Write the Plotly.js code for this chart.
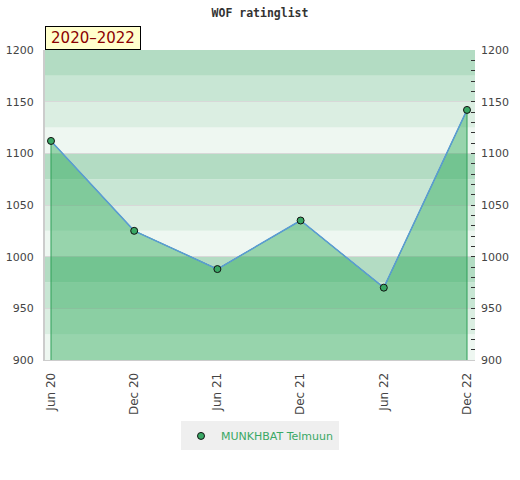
<!DOCTYPE html>
<html><head><meta charset="utf-8">
<script src="https://cdn.plot.ly/plotly-3.0.1.min.js"></script>
<style>html,body{margin:0;padding:0;background:#fff;}#chart{width:520px;height:480px;}</style>
</head><body><div id="chart"></div>
<script>
const periods = ["Jun 20","Dec 20","Jun 21","Dec 21","Jun 22","Dec 22"];
const ratings = [1112, 1025, 988, 1035, 970, 1142];
const playerName = "MUNKHBAT Telmuun";
const chartTitle = "WOF ratinglist";
const periodLabel = "2020–2022";
const yMin = 900, yMax = 1200;

const bandColors = ["#eef7f1","#dbeee2","#c8e6d4","#b3dcc3"];
const shapes = [];
for (let v = yMin, i = 0; v < yMax; v += 25, i++) {
  shapes.push({type:'rect', xref:'paper', yref:'y', x0:0, x1:1, y0:v, y1:v+25,
    fillcolor: bandColors[i % 4], line:{width:0}, layer:'below'});
}

const idx = periods.map((_,i)=>i);
const fillX = [idx[0], ...idx, idx[idx.length-1]];
const fillY = [0, ...ratings, 0];

const traces = [
  {x: fillX, y: fillY, type:'scatter', mode:'lines', fill:'toself',
   fillcolor:'rgba(20,160,70,0.4)', line:{color:'#2e9e58', width:1},
   hoverinfo:'skip', showlegend:false},
  {x: idx, y: ratings, type:'scatter', mode:'lines', showlegend:false,
   line:{color:'#5b9bd5', width:1.5}},
  {x: idx, y: ratings, type:'scatter', mode:'markers', name: playerName,
   marker:{color:'#3aa865', size:7, line:{color:'#111', width:1}}},
  {x: idx, y: ratings, yaxis:'y2', type:'scatter', mode:'none', showlegend:false, hoverinfo:'skip'}
];

const tickFont = {family:'DejaVu Sans', size:11, color:'#444'};
const layout = {
  width:520, height:480,
  margin:{l:45, r:45, t:50, b:120},
  paper_bgcolor:'#fff', plot_bgcolor:'#fff',
  title:{text: chartTitle, font:{family:'DejaVu Sans Mono', size:11.5, color:'#333', weight:'bold'}, x:0.5, xanchor:'center', y:0.973, yanchor:'middle'},
  xaxis:{range:[-0.072, 5.096], tickvals: idx, ticktext: periods, tickangle:-90,
    tickfont: {family:'DejaVu Sans', size:12, color:'#444'}, showgrid:false, zeroline:false, showline:true, linecolor:'#ccc', linewidth:1,
    ticks:'', fixedrange:true, ticklabelstandoff:7},
  yaxis:{range:[yMin, yMax], dtick:50, tickfont: tickFont, showgrid:true, gridcolor:'#d8d8d8', gridwidth:1,
    zeroline:false, showline:true, linecolor:'#ccc', linewidth:2, ticks:'', ticklen:0, ticklabelstandoff:7},
  yaxis2:{range:[yMin, yMax], overlaying:'y', side:'right', dtick:50, tickfont: tickFont,
    showgrid:false, zeroline:false, showline:false, ticks:'inside', ticklen:4, tickcolor:'#333',
    ticklabelstandoff:5,
    minor:{dtick:10, ticks:'inside', ticklen:4, tickcolor:'#333'}},
  shapes: shapes,
  showlegend:true,
  legend:{orientation:'h', x:0.5, xanchor:'center', y:-0.245, yanchor:'middle',
    bgcolor:'#efefef', font:{family:'DejaVu Sans', size:11, color:'#3aa865'}, itemwidth:30},
  annotations:[{text: periodLabel, xref:'paper', yref:'paper', x:0, y:1, xanchor:'left', yanchor:'bottom',
    showarrow:false, font:{family:'DejaVu Sans', size:15, color:'#8b0000'},
    bgcolor:'#ffffcc', bordercolor:'#000', borderwidth:1, borderpad:3, width:88, height:16}]
};
Plotly.newPlot('chart', traces, layout, {displayModeBar:false, staticPlot:true});
</script></body></html>
